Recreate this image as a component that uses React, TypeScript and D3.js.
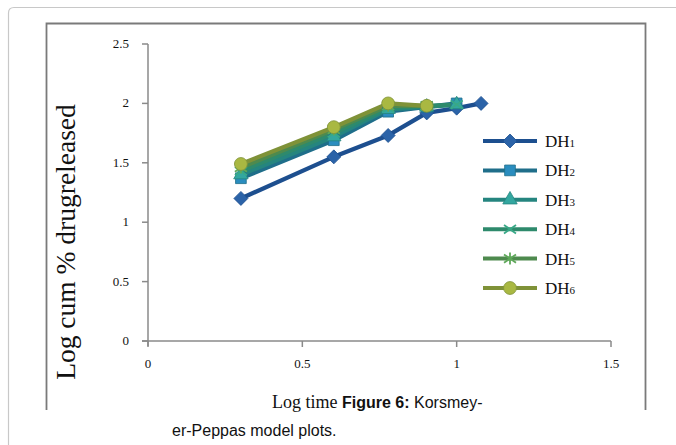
import React from "react";
import * as d3 from "d3";

const xTicks = [0, 0.5, 1, 1.5];
const yTicks = [0, 0.5, 1, 1.5, 2, 2.5];
const logTime = [0.301, 0.602, 0.778, 0.903, 1.0, 1.079];
const seriesNames = ["DH1", "DH2", "DH3", "DH4", "DH5", "DH6"];
const dh1 = [1.2, 1.55, 1.73, 1.92, 1.96, 2.0];
const dh2 = [1.37, 1.69, 1.93, 1.97, 2.0];
const dh3 = [1.4, 1.72, 1.95, 1.97, 1.99];
const dh4 = [1.43, 1.75, 1.96, 1.98, 1.99];
const dh5 = [1.46, 1.78, 1.98, 1.98];
const dh6 = [1.49, 1.8, 2.0, 1.98];
const seriesValues = [dh1, dh2, dh3, dh4, dh5, dh6];
const lineColors = ["#1d4f8f", "#1f6e8a", "#25857f", "#2e8a6c", "#4e8a4e", "#7f9238"];
const markerColors = ["#2b63a8", "#2a8dbf", "#33a7a0", "#39a887", "#5fa85a", "#a9b842"];
const markerTypes = ["diamond", "square", "triangle", "x", "star", "circle"];

function Marker({ type, x, y, color, stroke }: { type: string; x: number; y: number; color: string; stroke: string }) {
  const sym: Record<string, any> = {
    square: d3.symbolSquare,
    triangle: d3.symbolTriangle,
    circle: d3.symbolCircle,
  };
  if (type === "x") {
    const s = 6;
    return (
      <g stroke={color} strokeWidth={1.8}>
        <line x1={x - s} y1={y - s * 0.7} x2={x + s} y2={y + s * 0.7} />
        <line x1={x - s} y1={y + s * 0.7} x2={x + s} y2={y - s * 0.7} />
      </g>
    );
  }
  if (type === "star") {
    const s = 6;
    return (
      <g stroke={color} strokeWidth={1.8}>
        <line x1={x - s} y1={y - s * 0.7} x2={x + s} y2={y + s * 0.7} />
        <line x1={x - s} y1={y + s * 0.7} x2={x + s} y2={y - s * 0.7} />
        <line x1={x} y1={y - s} x2={x} y2={y + s} />
      </g>
    );
  }
  if (type === "diamond") {
    const s = 7;
    return (
      <path
        d={`M${x},${y - s} L${x + s},${y} L${x},${y + s} L${x - s},${y} Z`}
        fill={color}
        stroke={stroke}
        strokeWidth={0.8}
      />
    );
  }
  const size = type === "circle" ? 130 : type === "square" ? 115 : 90;
  const path = d3.symbol().type(sym[type]).size(size)()!;
  return <path d={path} transform={`translate(${x},${y})`} fill={color} stroke={stroke} strokeWidth={0.8} />;
}

export default function App() {
  const x = d3.scaleLinear().domain([0, 1.5]).range([148, 611]);
  const y = d3.scaleLinear().domain([0, 2.5]).range([341, 44]);
  const line = d3
    .line<[number, number]>()
    .x((d) => x(d[0]))
    .y((d) => y(d[1]));
  const serif = "'Liberation Serif', 'Times New Roman', serif";
  const sans = "'Liberation Sans', Arial, sans-serif";
  const legendY0 = 141;
  const legendStep = 29.4;

  return (
    <svg width={676} height={445} style={{ position: "absolute", left: 0, top: 0, background: "#fff" }}>
      <rect x={0} y={0} width={676} height={445} fill="#fff" />
      <path d="M8.5,460 L8.5,13 Q8.5,7.5 14,7.5 L690,7.5" fill="none" stroke="#c8c8c8" strokeWidth={1.2} />
      <path d="M46.5,410 L46.5,23.5 L645.5,23.5 L645.5,410" fill="none" stroke="#7a7a7a" strokeWidth={1.8} />

      <line x1={x(0)} y1={y(2.5)} x2={x(0)} y2={y(0) + 5} stroke="#8a8a8a" strokeWidth={1.5} />
      <line x1={x(0) - 6} y1={y(0)} x2={x(1.5)} y2={y(0)} stroke="#8a8a8a" strokeWidth={1.5} />
      {yTicks.map((t) => (
        <g key={"y" + t}>
          <line x1={x(0) - 6} y1={y(t)} x2={x(0)} y2={y(t)} stroke="#8a8a8a" strokeWidth={1.5} />
          <text x={129} y={y(t) + 4} textAnchor="end" fontFamily={serif} fontSize={13} fill="#111">
            {t}
          </text>
        </g>
      ))}
      {xTicks.map((t) => (
        <g key={"x" + t}>
          <line x1={x(t)} y1={y(0)} x2={x(t)} y2={y(0) + 6} stroke="#8a8a8a" strokeWidth={1.5} />
          <text x={x(t)} y={368} textAnchor="middle" fontFamily={serif} fontSize={13} fill="#111">
            {t}
          </text>
        </g>
      ))}

      {seriesValues.map((vals, i) => {
        const pts: [number, number][] = vals.map((v, j) => [logTime[j], v]);
        return (
          <path key={"l" + i} d={line(pts)!} fill="none" stroke={lineColors[i]} strokeWidth={4.3} strokeLinejoin="round" />
        );
      })}
      {seriesValues.map((vals, i) =>
        vals.map((v, j) => (
          <Marker key={`m${i}-${j}`} type={markerTypes[i]} x={x(logTime[j])} y={y(v)} color={markerColors[i]} stroke={lineColors[i]} />
        ))
      )}

      {seriesNames.map((name, i) => {
        const ly = legendY0 + i * legendStep;
        return (
          <g key={"lg" + i}>
            <line x1={483} y1={ly} x2={537} y2={ly} stroke={lineColors[i]} strokeWidth={4} />
            <Marker type={markerTypes[i]} x={510} y={ly} color={markerColors[i]} stroke={lineColors[i]} />
            <text x={545} y={ly + 6} fontFamily={serif} fontSize={17} fill="#111">
              {name.slice(0, 2)}
              <tspan fontSize={11}>{name.slice(2)}</tspan>
            </text>
          </g>
        );
      })}

      <text
        transform="translate(75,242) rotate(-90)"
        textAnchor="middle"
        fontFamily={serif}
        fontSize={27.5}
        fill="#111"
      >
        Log cum % drugreleased
      </text>

      <text x={272} y={408} fontFamily={serif} fontSize={18} fill="#111">
        Log time{" "}
        <tspan fontFamily={sans} fontWeight="bold" fontSize={16}>
          Figure 6:
        </tspan>
        <tspan fontFamily={sans} fontSize={16}> Korsmey-</tspan>
      </text>
      <text x={172} y={436} fontFamily={sans} fontSize={16} fill="#111">
        er-Peppas model plots.
      </text>
    </svg>
  );
}
